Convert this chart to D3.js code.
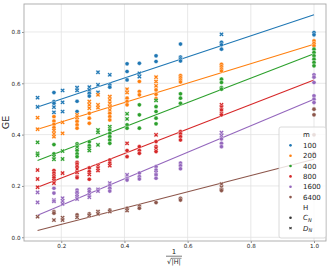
<!DOCTYPE html>
<html><head><meta charset="utf-8">
<script src="https://cdn.jsdelivr.net/npm/d3@7"></script>
<style>html,body{margin:0;padding:0;background:#fff;}svg{display:block;}</style>
</head><body>
<svg id="chart" width="332" height="270"></svg>
<script>
// ---- data: [|H|, group (C = C_N, D = D_N), GE] ----
const mValues = [100, 200, 400, 800, 1600, 6400];
const xTicks = [0.2, 0.4, 0.6, 0.8, 1.0];
const yTicks = [0.0, 0.2, 0.4, 0.6, 0.8];
const ge100 = [[64,'D',0.544],[64,'D',0.508],[32,'C',0.564],[32,'C',0.529],[32,'C',0.522],[32,'D',0.507],[32,'D',0.487],
[24,'D',0.572],[24,'D',0.526],[24,'D',0.490],[16,'D',0.583],[16,'D',0.572],[16,'C',0.530],[16,'C',0.490],
[12,'D',0.585],[12,'D',0.574],[12,'C',0.561],[12,'C',0.550],[10,'D',0.643],[10,'D',0.594],[10,'D',0.565],
[8,'D',0.633],[8,'C',0.594],[8,'C',0.585],[6,'C',0.676],[6,'C',0.646],[6,'C',0.613],[5,'C',0.678],[5,'D',0.639],[5,'D',0.626],
[4,'C',0.707],[4,'C',0.685],[3,'C',0.753],[3,'C',0.702],[3,'C',0.695],[3,'C',0.687],
[2,'D',0.791],[2,'C',0.760],[2,'C',0.750],[2,'C',0.733],[1,'C',0.798],[1,'C',0.789]];
const ge200 = [[64,'D',0.466],[64,'D',0.421],[32,'C',0.470],[32,'C',0.453],[32,'C',0.440],[32,'C',0.427],[32,'D',0.416],[32,'D',0.403],[32,'D',0.392],
[24,'D',0.448],[24,'D',0.405],[16,'D',0.477],[16,'D',0.468],[16,'D',0.458],[16,'C',0.451],[16,'C',0.438],[16,'C',0.425],
[12,'D',0.529],[12,'D',0.516],[12,'D',0.503],[12,'C',0.483],[12,'C',0.464],[12,'C',0.444],[10,'D',0.555],[10,'D',0.516],[10,'D',0.505],
[8,'D',0.548],[8,'D',0.535],[8,'D',0.522],[8,'D',0.509],[8,'D',0.496],[8,'C',0.483],[8,'C',0.470],[8,'C',0.457],
[6,'D',0.577],[6,'D',0.564],[6,'C',0.542],[6,'C',0.529],[6,'C',0.516],[5,'C',0.607],[5,'C',0.568],[5,'C',0.555],
[4,'D',0.624],[4,'D',0.607],[4,'D',0.590],[4,'C',0.574],[4,'C',0.557],[4,'C',0.540],[3,'C',0.630],[3,'C',0.622],[3,'C',0.613],[3,'C',0.605],
[2,'C',0.674],[2,'C',0.665],[2,'C',0.656],[2,'C',0.648],[1,'C',0.765],[1,'C',0.755],[1,'C',0.746]];
const ge400 = [[64,'D',0.370],[64,'D',0.327],[64,'D',0.320],[32,'C',0.361],[32,'C',0.325],[32,'D',0.314],[32,'D',0.304],
[24,'D',0.336],[24,'D',0.305],[16,'C',0.364],[16,'C',0.357],[16,'D',0.351],[16,'C',0.338],[16,'C',0.325],[16,'C',0.314],
[12,'C',0.372],[12,'C',0.357],[12,'D',0.347],[12,'D',0.338],[10,'D',0.418],[10,'D',0.409],[10,'D',0.360],
[8,'D',0.431],[8,'C',0.418],[8,'C',0.405],[8,'C',0.392],[8,'C',0.379],[8,'C',0.366],[6,'D',0.481],[6,'D',0.461],[6,'C',0.438],[6,'C',0.425],
[5,'C',0.516],[5,'C',0.477],[5,'C',0.425],[4,'D',0.533],[4,'C',0.509],[4,'C',0.490],[4,'C',0.464],[4,'C',0.442],
[3,'C',0.559],[3,'C',0.542],[3,'C',0.522],[2,'C',0.616],[2,'C',0.603],[2,'C',0.583],[2,'C',0.577],
[1,'C',0.733],[1,'C',0.720],[1,'C',0.707],[1,'C',0.694],[1,'C',0.681],[1,'C',0.668]];
const ge800 = [[64,'D',0.262],[64,'D',0.227],[64,'D',0.195],[32,'C',0.260],[32,'C',0.250],[32,'C',0.240],[32,'C',0.232],[32,'D',0.221],[32,'D',0.211],
[24,'D',0.250],[16,'C',0.292],[16,'C',0.285],[16,'C',0.275],[16,'D',0.266],[16,'D',0.253],[16,'C',0.236],[16,'C',0.232],
[12,'C',0.270],[12,'C',0.256],[12,'D',0.245],[12,'C',0.226],[10,'D',0.279],[10,'D',0.269],[10,'D',0.260],
[8,'C',0.301],[8,'C',0.289],[8,'D',0.279],[6,'D',0.366],[6,'C',0.338],[6,'C',0.314],[5,'C',0.353],[5,'C',0.338],[5,'C',0.327],
[4,'D',0.399],[4,'C',0.373],[4,'C',0.353],[4,'D',0.347],[4,'C',0.334],[3,'C',0.412],[3,'C',0.403],[3,'C',0.392],[3,'C',0.379],
[2,'D',0.516],[2,'D',0.507],[2,'C',0.496],[2,'D',0.483],[2,'C',0.477]];
const ge1600 = [[64,'D',0.175],[64,'D',0.136],[32,'C',0.191],[32,'C',0.172],[32,'D',0.145],[32,'D',0.140],
[24,'D',0.152],[24,'D',0.142],[24,'D',0.130],[16,'C',0.184],[16,'C',0.175],[16,'D',0.165],[16,'D',0.158],[16,'D',0.149],
[12,'C',0.187],[12,'C',0.178],[12,'D',0.165],[12,'D',0.156],[10,'D',0.187],[10,'D',0.180],
[8,'D',0.211],[8,'C',0.201],[8,'C',0.191],[8,'C',0.180],[6,'D',0.243],[6,'C',0.230],[6,'C',0.223],[5,'C',0.250],[5,'C',0.236],[5,'C',0.227],
[4,'C',0.275],[4,'C',0.262],[4,'D',0.252],[4,'C',0.243],[4,'C',0.230],[3,'C',0.289],[3,'C',0.279],[3,'C',0.267],
[2,'D',0.408],[2,'D',0.396],[2,'C',0.383],[2,'C',0.366],[2,'C',0.353],
[1,'C',0.633],[1,'C',0.624],[1,'C',0.603],[1,'C',0.551],[1,'C',0.538],[1,'C',0.525]];
const ge6400 = [[64,'D',0.080],[32,'C',0.100],[32,'C',0.094],[32,'D',0.067],[24,'D',0.076],[24,'D',0.067],
[16,'C',0.087],[16,'D',0.078],[12,'C',0.091],[12,'D',0.085],[10,'D',0.100],[10,'D',0.091],[8,'C',0.106],[8,'D',0.100],
[6,'C',0.113],[6,'D',0.104],[5,'C',0.122],[5,'C',0.113],[4,'C',0.135],[3,'C',0.152],[3,'C',0.145],
[2,'D',0.207],[2,'D',0.195],[2,'C',0.187],[2,'C',0.182],[1,'C',0.499],[1,'C',0.477],[1,'C',0.399],[1,'C',0.327]];
// fitted line GE values at |H| = 64 and |H| = 1
const fitStart = [0.508, 0.421, 0.299, 0.195, 0.086, 0.026];
const fitEnd   = [0.867, 0.752, 0.715, 0.613, 0.538, 0.304];
const fitH = [64, 1];

const seriesData = [ge100, ge200, ge400, ge800, ge1600, ge6400];
const colors = ['#1f77b4','#ff7f0e','#2ca02c','#d62728','#9467bd','#8c564b'];

const svg = d3.select('#chart');
const L = 24, R = 326, T = 4, B = 241;
const x = d3.scaleLinear().domain([0.082, 1.038]).range([L, R]);
const y = d3.scaleLinear().domain([-0.0146, 0.909]).range([B, T]);
const hx = h => x(1 / Math.sqrt(h));
const font = 'DejaVu Sans, sans-serif';

// grid
const grid = svg.append('g');
grid.selectAll('.gx').data(xTicks).join('line')
  .attr('x1', d => x(d)).attr('x2', d => x(d)).attr('y1', T).attr('y2', B)
  .attr('stroke', '#e2e2e2').attr('stroke-width', 0.8);
grid.selectAll('.gy').data(yTicks).join('line')
  .attr('y1', d => y(d)).attr('y2', d => y(d)).attr('x1', L).attr('x2', R)
  .attr('stroke', '#e2e2e2').attr('stroke-width', 0.8);

// axes
const fmt = d3.format('.1f');
const ax = svg.append('g').attr('transform', `translate(0,${B})`)
  .call(d3.axisBottom(x).tickValues(xTicks).tickFormat(fmt).tickSize(2).tickPadding(1.5));
const ay = svg.append('g').attr('transform', `translate(${L},0)`)
  .call(d3.axisLeft(y).tickValues(yTicks).tickFormat(fmt).tickSize(2).tickPadding(1.5));
[ax, ay].forEach(g => {
  g.select('.domain').remove();
  g.selectAll('.tick line').attr('stroke', '#444').attr('stroke-width', 0.6);
  g.selectAll('.tick text').attr('font-family', font).attr('font-size', 5.6).attr('fill', '#222');
});

// frame
svg.append('rect').attr('x', L).attr('y', T).attr('width', R - L).attr('height', B - T)
  .attr('fill', 'none').attr('stroke', '#a8a8a8').attr('stroke-width', 0.9);

// fit lines
const lineGen = d3.line().x(d => hx(d[0])).y(d => y(d[1]));
mValues.forEach((m, i) => {
  svg.append('path').datum([[fitH[0], fitStart[i]], [fitH[1], fitEnd[i]]])
    .attr('d', lineGen).attr('fill', 'none').attr('stroke', colors[i]).attr('stroke-width', 1.1);
});

// points
const xSym = d3.symbol().type(d3.symbolCross).size(13);
seriesData.forEach((data, i) => {
  const g = svg.append('g');
  data.forEach(d => {
    if (d[1] === 'C') {
      g.append('circle').attr('cx', hx(d[0])).attr('cy', y(d[2])).attr('r', 2.1)
        .attr('fill', colors[i]).attr('stroke', '#fff').attr('stroke-width', 0.4);
    } else {
      g.append('path').attr('d', xSym())
        .attr('transform', `translate(${hx(d[0])},${y(d[2])}) rotate(45)`)
        .attr('fill', colors[i]).attr('stroke', '#fff').attr('stroke-width', 0.35);
    }
  });
});

// legend
const lg = svg.append('g');
lg.append('rect').attr('x', 279).attr('y', 127).attr('width', 47).attr('height', 111).attr('rx', 2)
  .attr('fill', '#fff').attr('fill-opacity', 0.8).attr('stroke', '#d0d0d0').attr('stroke-width', 0.8);
const ly0 = 135, ldy = 10.35, lmx = 290.5, ltx = 303;
const lt = (txt, row) => lg.append('text').attr('x', ltx).attr('y', ly0 + row * ldy).attr('dy', '0.35em')
  .attr('font-family', font).attr('font-size', 7).attr('fill', '#222').text(txt);
lt('m', 0);
mValues.forEach((m, i) => {
  lg.append('circle').attr('cx', lmx).attr('cy', ly0 + (i + 1) * ldy).attr('r', 1.3).attr('fill', colors[i]);
  lt(String(m), i + 1);
});
lt('H', 7);
lg.append('circle').attr('cx', lmx).attr('cy', ly0 + 8 * ldy).attr('r', 1.3).attr('fill', '#333');
lg.append('path').attr('d', d3.symbol().type(d3.symbolCross).size(5)())
  .attr('transform', `translate(${lmx},${ly0 + 9 * ldy}) rotate(45)`).attr('fill', '#333');
['C', 'D'].forEach((c, k) => {
  const t = lg.append('text').attr('x', ltx).attr('y', ly0 + (8 + k) * ldy).attr('dy', '0.35em')
    .attr('font-family', font).attr('font-size', 7).attr('fill', '#222');
  t.append('tspan').attr('font-style', 'italic').text(c);
  t.append('tspan').attr('font-style', 'italic').attr('font-size', 5).attr('dy', '0.35em').text('N');
});

// y label
svg.append('text').attr('transform', 'translate(9,122.5) rotate(-90)').attr('text-anchor', 'middle')
  .attr('font-family', font).attr('font-size', 9.5).attr('fill', '#222').text('GE');

// x label: 1 / sqrt(|H|)
const xl = svg.append('g');
const cx = 174;
xl.append('text').attr('x', cx).attr('y', 254.3).attr('text-anchor', 'middle')
  .attr('font-family', font).attr('font-size', 7).attr('fill', '#222').text('1');
xl.append('line').attr('x1', cx - 8).attr('x2', cx + 8).attr('y1', 256.2).attr('y2', 256.2)
  .attr('stroke', '#222').attr('stroke-width', 0.6);
xl.append('text').attr('x', cx - 2.6).attr('y', 264.3).attr('text-anchor', 'end')
  .attr('font-family', font).attr('font-size', 7).attr('fill', '#222').text('√');
xl.append('text').attr('x', cx + 2.2).attr('y', 264.3).attr('text-anchor', 'middle')
  .attr('font-family', font).attr('font-size', 6.5).attr('fill', '#222').text('|H|');
xl.append('line').attr('x1', cx - 3).attr('x2', cx + 7.5).attr('y1', 258.3).attr('y2', 258.3)
  .attr('stroke', '#222').attr('stroke-width', 0.5);
</script>
</body></html>
